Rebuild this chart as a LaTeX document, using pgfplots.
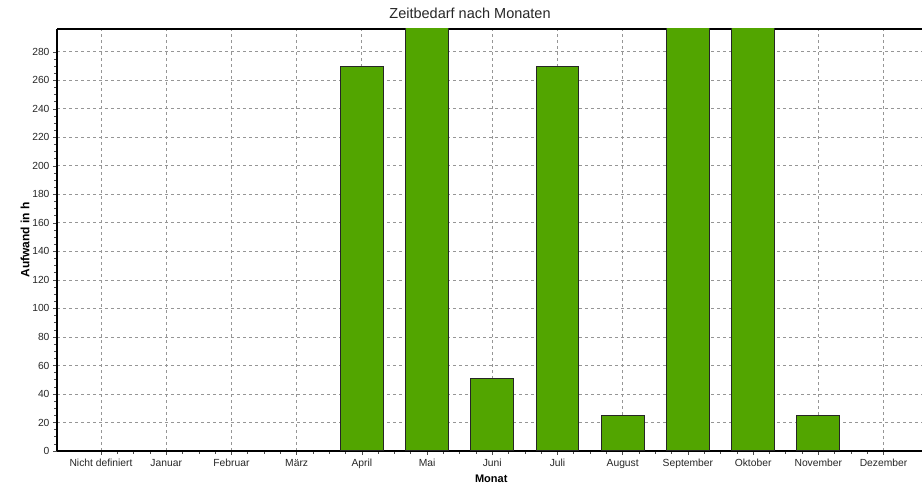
\documentclass[border=0pt]{standalone}
\usepackage{pgfplots}
\pgfplotsset{compat=1.18}
\usepackage{fontspec}
\setmainfont{Liberation Sans}
\definecolor{bargreen}{RGB}{82,165,0}
\definecolor{gridgray}{RGB}{150,150,150}
\begin{document}
\begin{tikzpicture}
\begin{axis}[
  name=ax,
  scale only axis, width=865pt, height=422pt,
  xmin=-0.675, xmax=12.59, ymin=0, ymax=296,
  ybar, bar width=0.655, bar shift=0pt,
  axis x line*=box, axis y line*=left,
  xtick pos=bottom, ytick pos=left,
  xtick={0,...,12},
  xticklabels={Nicht definiert,Januar,Februar,März,April,Mai,Juni,Juli,August,September,Oktober,November,Dezember},
  ytick={0,20,...,280},
  minor x tick num=3, minor y tick num=3,
  tick align=outside,
  major tick length=4pt, minor tick length=3pt,
  every tick/.style={black!70, line width=0.6pt},
  grid=major,
  major grid style={gridgray, line width=0.8pt, dash pattern=on 3pt off 3pt},
  axis line style={black, line width=1.7pt},
  ticklabel style={font=\fontsize{10.3}{12}\selectfont, text=black!85},
  /pgf/number format/assume math mode=true,
  xticklabel style={yshift=-1pt},
  title={Zeitbedarf nach Monaten},
  title style={font=\fontsize{14.5}{16}\selectfont, at={(0.4775,1.024)}, anchor=center, text=black!85},
  xlabel={Monat},
  xlabel style={font=\fontsize{11}{12}\selectfont\bfseries, at={(0.502,-0.0664)}, anchor=center},
  ylabel={Aufwand in h},
  ylabel style={font=\fontsize{12}{13}\selectfont\bfseries, at={(-0.0370,0.5)}, anchor=center},
]
\addplot[fill=bargreen, draw=black!85, line width=1pt]
  coordinates {(4,270) (5,320) (6,51) (7,270) (8,25) (9,320) (10,320) (11,25)};
\end{axis}
\pgfresetboundingbox
\path[use as bounding box] ([shift={(-57pt,-35pt)}]ax.south west) rectangle ([shift={(0pt,29pt)}]ax.north east);
\end{tikzpicture}
\end{document}
